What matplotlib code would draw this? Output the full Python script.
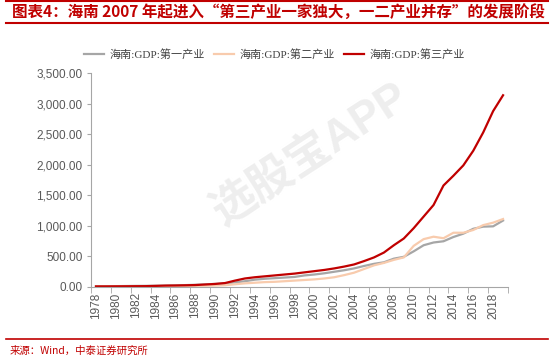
import matplotlib
matplotlib.use("Agg")
import matplotlib.pyplot as plt
from matplotlib.lines import Line2D
import numpy as np

plt.rcParams['font.family'] = ['Liberation Sans', 'Noto Sans CJK SC', 'DejaVu Sans']

# data (亿元)
years = list(range(1978, 2020))
primary = [7, 8, 9, 11, 13, 14, 16, 18, 21, 26, 31, 38, 46, 55, 70, 90, 115, 130, 140, 150,
           160, 185, 200, 220, 245, 270, 300, 340, 375, 400, 460, 490, 580, 680, 725, 745,
           815, 870, 950, 985, 990, 1085]
secondary = [4, 4, 5, 5, 6, 6, 8, 10, 10, 12, 14, 16, 19, 24, 40, 55, 65, 75, 80, 90,
             100, 110, 120, 135, 155, 190, 230, 290, 350, 390, 440, 480, 670, 780, 820, 795,
             885, 885, 930, 1010, 1050, 1110]
tertiary = [5, 5, 6, 7, 8, 9, 13, 18, 20, 23, 27, 36, 45, 60, 100, 135, 155, 170, 185, 200,
            215, 235, 255, 275, 300, 330, 365, 420, 480, 560, 680, 790, 960, 1150, 1340, 1660,
            1820, 1990, 2230, 2530, 2880, 3140]
series_names = ['海南:GDP:第一产业', '海南:GDP:第二产业', '海南:GDP:第三产业']

title = '图表4：海南 2007 年起进入“第三产业一家独大，一二产业并存”的发展阶段'
source = '来源：Wind，中泰证券研究所'

red = '#c00000'
fig = plt.figure(figsize=(5.54, 3.59), dpi=100)
ax = fig.add_axes([0.1643, 0.2014, 0.7527, 0.5944])

x = np.arange(len(years))
ax.plot(x, primary, color='#a6a6a6', lw=1.6, label=series_names[0])
ax.plot(x, secondary, color='#f8cbad', lw=1.6, label=series_names[1])
ax.plot(x, tertiary, color=red, lw=1.6, label=series_names[2])

ax.set_xlim(-0.5, len(years) - 0.5)
ax.set_ylim(0, 3500)
ax.set_yticks(np.arange(0, 3501, 500))
ax.set_yticklabels(['{:,.2f}'.format(v) for v in np.arange(0, 3501, 500)])
ax.set_xticks(x[::2])
ax.set_xticklabels([str(y) for y in years[::2]], rotation=90)
ax.set_xticks(np.arange(-0.5, len(years), 2), minor=True)
ax.tick_params(axis='x', which='major', length=0, pad=4, labelsize=8.5, labelcolor='#595959')
ax.tick_params(axis='x', which='minor', length=4, color='#a6a6a6')
ax.tick_params(axis='y', length=3, color='#a6a6a6', labelsize=8.5, labelcolor='#595959', pad=3)
for s in ['top', 'right']:
    ax.spines[s].set_visible(False)
for s in ['left', 'bottom']:
    ax.spines[s].set_color('#a6a6a6')

fig.legend(loc='center', bbox_to_anchor=(0.495, 0.847), ncol=3, frameon=False,
           prop={'family': ['Liberation Serif', 'Noto Sans CJK SC'], 'size': 8},
           handlelength=1.8, handletextpad=0.5, columnspacing=0.8, labelcolor='#404040')

# watermark
fig.text(0.56, 0.57, '选股宝APP', rotation=33, fontsize=32, color='#eeeeee',
         ha='center', va='center', fontweight='bold', zorder=0)

# title, rules and source
fig.text(0.022, 0.966, title, color=red, fontsize=11.2, fontweight='bold',
         va='center', ha='left', family=['Noto Sans CJK SC', 'DejaVu Sans'])
fig.add_artist(Line2D([0.01, 0.99], [0.996, 0.996], color=red, lw=1.5))
fig.add_artist(Line2D([0.01, 0.99], [0.936, 0.936], color=red, lw=1.5))
fig.add_artist(Line2D([0.01, 0.99], [0.057, 0.057], color=red, lw=1.2))
fig.text(0.018, 0.022, source, color=red, fontsize=7.5, va='center', ha='left',
         family=['Noto Sans CJK SC', 'DejaVu Sans'])

fig.savefig('out.png', dpi=100)
